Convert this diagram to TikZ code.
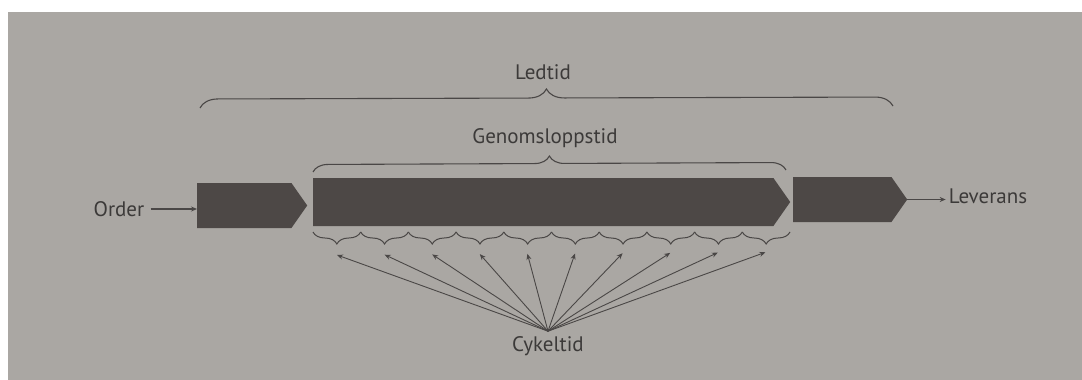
\documentclass[tikz,border=0pt]{standalone}
\usepackage{fontspec}
\setmainfont{PT Sans}
\usetikzlibrary{shapes.symbols,decorations.pathreplacing,positioning,arrows.meta}

\definecolor{papper}{HTML}{AAA7A3}
\definecolor{balk}{HTML}{4D4846}
\definecolor{streck}{HTML}{4A4746}
\definecolor{skrift}{HTML}{3C3A39}

\begin{document}
\begin{tikzpicture}[x=1pt, y=-1pt, >={Stealth[length=6pt,width=5pt]},
  etikett/.style={text=skrift, font=\fontsize{21}{24}\selectfont, inner sep=0pt},
  pil/.style={signal, signal to=east, signal pointer angle=110, fill=balk, inner sep=0pt, anchor=west},
  klammer/.style={draw=streck, line width=1.1pt, decorate, decoration={brace, amplitude=#1}},
  smaklammer/.style={draw=streck, line width=1pt, decorate, decoration={brace, mirror, amplitude=#1}}]

  % --- 1. bakgrund ---
  \useasboundingbox (0,0) rectangle (1082,380);
  \fill[white] (0,0) rectangle (1082,380);
  \fill[papper] (8,12) rectangle (1082,380);

  % --- 2. de tre stegen ---
  \node[pil, minimum width=110pt, minimum height=45pt] (steg1) at (197,205.5) {};
  \node[pil, minimum width=477pt, minimum height=48pt] (steg2) at (313,202) {};
  \node[pil, minimum width=114pt, minimum height=45pt] (steg3) at (793,199.5) {};

  % --- 3. order och leverans ---
  \node[etikett] (order) at (119,209) {Order};
  \node[etikett] (leverans) at (988,196) {Leverans};
  \draw[->, streck, line width=1.1pt] ([xshift=6pt]order.east) -- (order.east -| steg1.west);
  \draw[->, streck, line width=1.1pt] (steg3.east) -- ([xshift=-3pt]steg3.east -| leverans.west);

  % --- 4. klamrar ovanfor ---
  \coordinate (led-v) at (200,108);
  \coordinate (led-h) at (893,106);
  \draw[klammer=18] (led-v) -- (led-h);
  \node[etikett] (ledtid) at (543,72) {Ledtid};

  \coordinate (gen-v) at (313,172);
  \coordinate (gen-h) at (786,170);
  \draw[klammer=15] (gen-v) -- (gen-h);
  \node[etikett] (genom) at (545,138) {Genomsloppstid};

  % --- 5. cykeltider ---
  \foreach \i in {0,...,9}
    \draw[smaklammer=12] ({313+\i*47.7},232) -- ({313+(\i+1)*47.7},232);

  \node[etikett] (cykel) at (548,346) {Cykeltid};
  \coordinate (topp) at ([yshift=5pt]cykel.north);
  \foreach \i in {0,...,9} {
    \coordinate (c\i) at ({337+\i*47.6},{255-\i*0.3});
    \draw[->, streck, line width=0.9pt] (topp) -- (c\i);
  }

\end{tikzpicture}
\end{document}
